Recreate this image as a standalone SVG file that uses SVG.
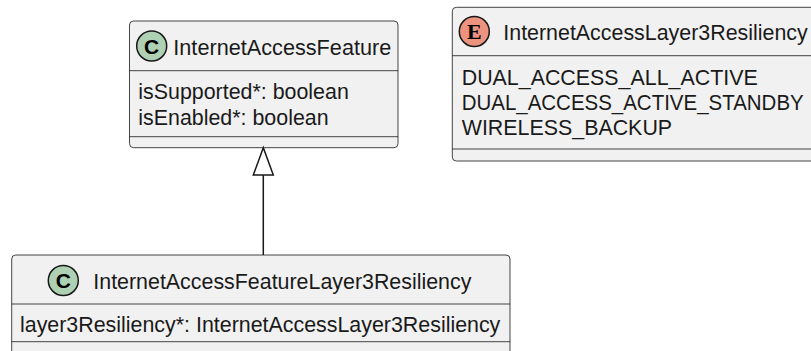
<svg xmlns="http://www.w3.org/2000/svg" width="811" height="351" viewBox="0 0 811 351">
<style>
.box{fill:#F1F1F1;stroke:#181818;stroke-width:0.8}
.sep{stroke:#181818;stroke-width:0.8}
.t{font-family:"Liberation Sans",Arial,sans-serif;font-size:21.4px;fill:#1a1a1a}
.cc{fill:#ADD1B2;stroke:#181818;stroke-width:1.5}
.ce{fill:#EB937F;stroke:#181818;stroke-width:1.5}
.cl{font-family:"Liberation Sans",Arial,sans-serif;font-size:21px;font-weight:bold;fill:#000;text-anchor:middle}
.el{font-family:"Liberation Serif","Times New Roman",serif;font-size:22px;font-weight:bold;fill:#000;text-anchor:middle}
.edge{stroke:#181818;stroke-width:1.5;fill:none}
</style>
<rect width="811" height="351" fill="#FFFFFF"/>
<g id="InternetAccessFeature">
<rect class="box" x="129.5" y="21" width="268.5" height="126.7" rx="4"/>
<line class="sep" x1="129.5" y1="70.7" x2="398" y2="70.7"/>
<line class="sep" x1="129.5" y1="136.7" x2="398" y2="136.7"/>
<circle class="cc" cx="151.7" cy="46" r="15"/>
<text class="cl" x="151.7" y="53.5">C</text>
<text class="t" x="173.3" y="55" textLength="218" lengthAdjust="spacingAndGlyphs">InternetAccessFeature</text>
<text class="t" x="138.3" y="99">isSupported*: boolean</text>
<text class="t" x="138.3" y="125">isEnabled*: boolean</text>
</g>
<g id="InternetAccessLayer3Resiliency">
<rect class="box" x="452.3" y="7.3" width="380" height="153.7" rx="4"/>
<line class="sep" x1="452.3" y1="55.7" x2="832" y2="55.7"/>
<line class="sep" x1="452.3" y1="149" x2="832" y2="149"/>
<circle class="ce" cx="474.3" cy="31.5" r="15"/>
<text class="el" x="474.3" y="39">E</text>
<text class="t" x="503.3" y="40">InternetAccessLayer3Resiliency</text>
<text class="t" x="461.7" y="84.7">DUAL_ACCESS_ALL_ACTIVE</text>
<text class="t" x="461.7" y="110" textLength="342" lengthAdjust="spacingAndGlyphs">DUAL_ACCESS_ACTIVE_STANDBY</text>
<text class="t" x="461.7" y="135.3">WIRELESS_BACKUP</text>
</g>
<g id="InternetAccessFeatureLayer3Resiliency">
<rect class="box" x="11.7" y="255" width="498.3" height="120" rx="4"/>
<line class="sep" x1="11.7" y1="304" x2="510" y2="304"/>
<line class="sep" x1="11.7" y1="341.7" x2="510" y2="341.7"/>
<circle class="cc" cx="63.3" cy="280.5" r="15"/>
<text class="cl" x="63.3" y="288">C</text>
<text class="t" x="93.3" y="289">InternetAccessFeatureLayer3Resiliency</text>
<text class="t" x="20" y="332">layer3Resiliency*: InternetAccessLayer3Resiliency</text>
</g>
<g id="connectors">
<line class="edge" x1="263.3" y1="175" x2="263.3" y2="255"/>
<polygon points="263.3,147.7 253.3,175 273.3,175" fill="#FFFFFF" stroke="#181818" stroke-width="1.5"/>
</g>
</svg>
